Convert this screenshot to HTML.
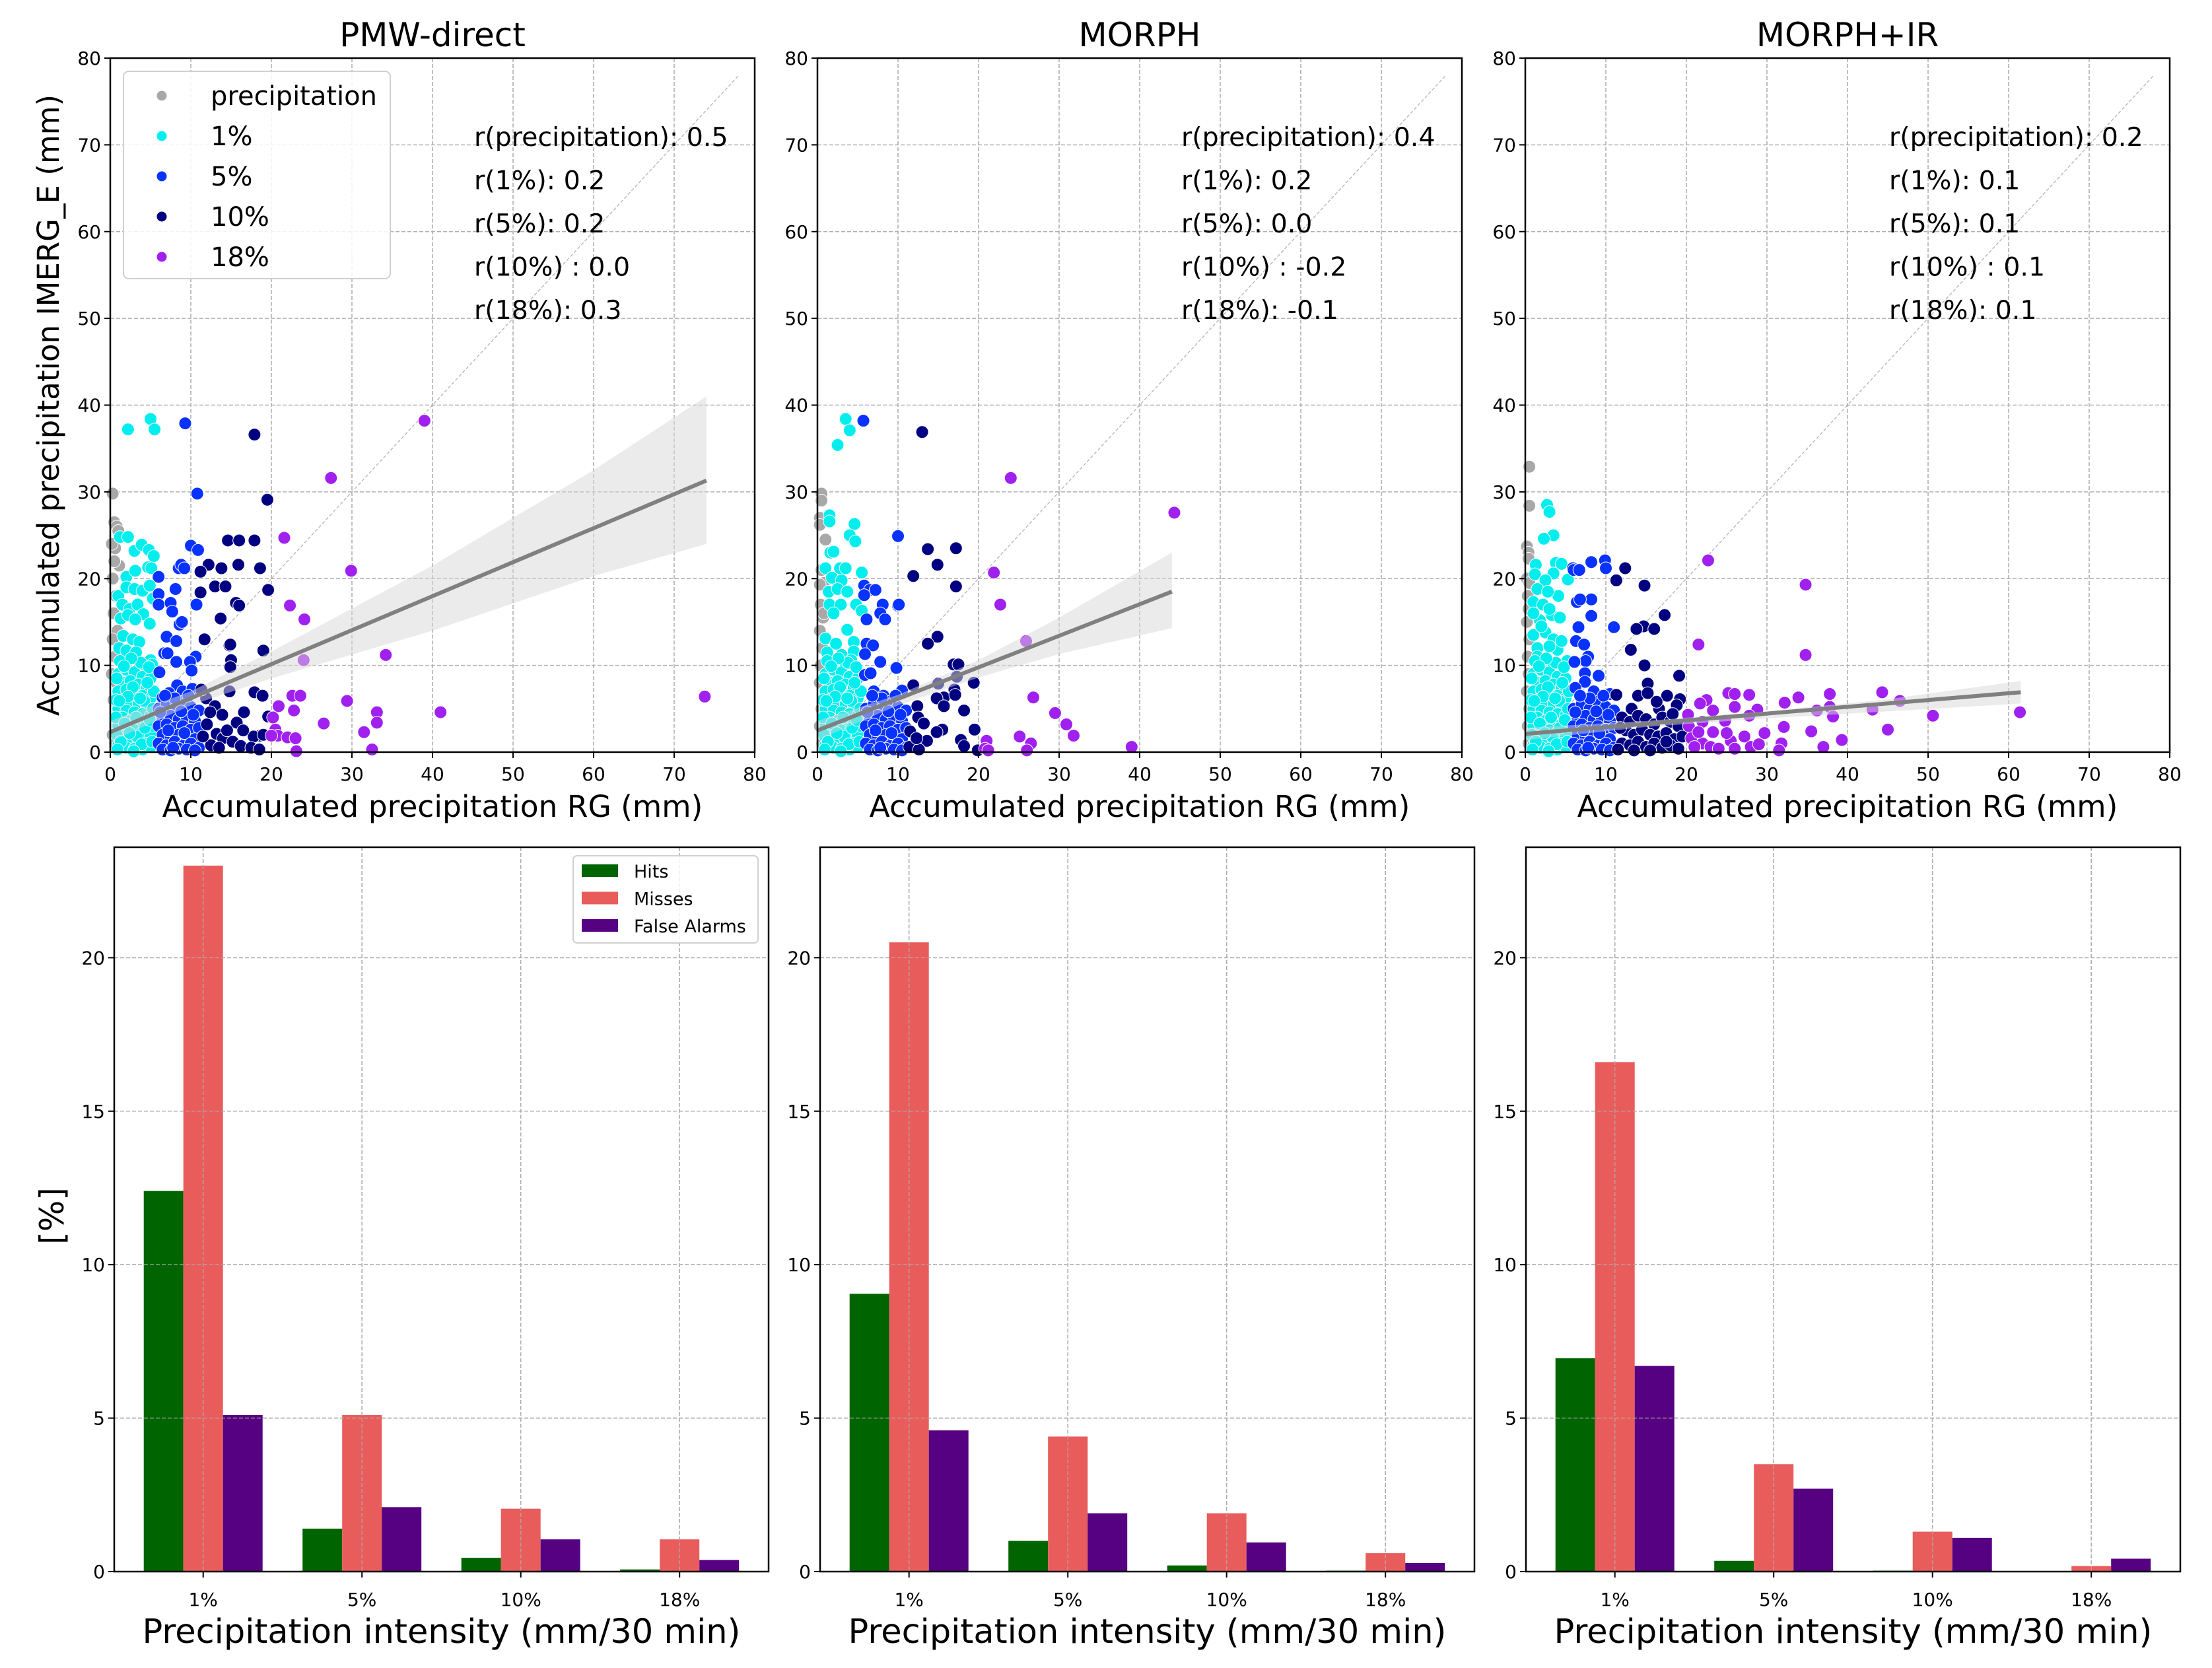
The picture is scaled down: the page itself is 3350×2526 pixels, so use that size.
<!DOCTYPE html>
<html><head><meta charset="utf-8">
<style>
html,body{margin:0;padding:0;background:#fff;}
svg{display:block;font-family:"DejaVu Sans","Liberation Sans",sans-serif;}
</style></head>
<body>
<svg id="fig" xmlns="http://www.w3.org/2000/svg" width="3350" height="2526" viewBox="0 0 3350 2526"></svg>
<script>
// ---------- scatter data (RG mm, IMERG_E mm) ----------
const titles = ["PMW-direct","MORPH","MORPH+IR"];
const corrLabels = ["r(precipitation)","r(1%)","r(5%)","r(10%) ","r(18%)"];
const corrP1 = ["0.5","0.2","0.2","0.0","0.3"];
const corrP2 = ["0.4","0.2","0.0","-0.2","-0.1"];
const corrP3 = ["0.2","0.1","0.1","0.1","0.1"];
const denseCyan = [[1,9],[2,9.5],[3,9.2],[4,8.7],[5,8.5],[1.5,8],[2.5,8.2],[3.5,7.8],[4.5,7.5],[1,7],[2,7.2],[3,6.8],[4,6.5],[5,6.2],[1.5,6],[2.5,5.8],[3.5,5.5],[4.5,5.2],[1,5],[2,4.8],[3,4.6],[4,4.4],[5,4.2],[1.5,4],[2.5,3.6],[3.5,3.4],[4.5,3.2],[1,3],[2,2.8],[3,2.5],[4,2.3],[5,2],[1.5,1.8],[2.5,1.5],[3.5,1.2],[4.5,1],[1,0.8],[2,0.5],[3,0.4],[4,0.3],[5,0.6],[1.2,10.5],[3.8,10.3],[2.6,10.8],[0.8,2],[0.7,6],[5.3,3],[5.4,7],[4.8,9.8],[0.7,4],[0.8,8.5],[1.8,3.3],[2.8,7.5],[3.3,1.8],[4.2,5.9],[1.3,1.2],[3.9,0.9],[2.2,6.4],[4.6,8],[0.9,0.3],[5.2,1.2],[5.3,5],[1.7,9.9],[2.9,0.1],[4.3,2.8],[3.2,4],[2.4,2.2],[1.1,5.9],[3.7,6.2],[4.9,3.7]];
const denseBlue = [[6,5],[7,5.5],[8,5],[9,5.8],[10,5.2],[11,4.8],[6.5,4],[7.5,4.2],[8.5,3.8],[9.5,4],[10.5,3.6],[6,3],[7,3.2],[8,2.8],[9,3],[10,2.6],[11,2.8],[6.5,2],[7.5,1.8],[8.5,2],[9.5,1.6],[10.5,1.5],[6,1],[7,0.8],[8,1.2],[9,0.7],[10,1],[11,0.5],[6.5,0.3],[7.5,0.2],[8.5,0.4],[9.5,0.3],[10.5,0.2],[8,6.2],[9.7,6.5],[6.8,6.5],[7.2,2.5],[9.2,2.2],[6.2,4.6],[10.3,4.3],[8.8,4.7],[7.8,0.5]];

const p1Gray = [[0.3,29.8],[0.5,26.5],[0.8,26],[1,25.5],[0.6,23.5],[1.1,21.5],[0.3,20],[0.7,18],[0.4,16],[0.9,14],[0.3,13],[0.6,11],[0.2,9],[0.8,8],[0.4,6],[0.7,4],[0.3,2],[0.6,1],[0.2,24],[0.5,22]];
const p1Cyan = [[2.2,37.2],[5,38.4],[5.5,37.2],[1.2,24.8],[2.2,24.8],[3,23.2],[3.9,23.9],[4.8,23.3],[5.4,22.6],[2,20.2],[3.1,20.9],[4.7,21.3],[5.1,21.2],[1,18],[2,19],[3,18.8],[4,18.6],[4.9,19.2],[5.3,17.7],[1.5,17],[2.4,16.5],[3.4,17],[4.1,15.9],[4.9,14.8],[1.3,15.4],[2.2,15.8],[3.1,15.3],[1.6,13.4],[2.8,13],[3.6,12.7],[1.1,12],[2,11.7],[3.2,11.5],[5,10.6],[5.2,10.1],[4.5,9.2]].concat(denseCyan);
const p1Blue = [[9.3,37.9],[10.8,29.8],[10,23.8],[10.9,23.3],[6,20.2],[8.5,21.2],[8.8,21.6],[9.2,21.2],[6,18.2],[8.1,18.8],[6,17],[7.5,17.2],[10.7,17],[7.7,16.2],[8.6,14.7],[8.9,15],[7,13.3],[8.2,12.8],[6.7,11.4],[7.1,11.4],[10.6,11],[8.2,10.4],[9.9,10.4],[10.1,9.4],[6.1,9.2],[8.3,7.7],[7.3,6.8],[9,7],[10.2,7.3],[6.5,6.3],[7.8,5.5]].concat(denseBlue);
const p1Navy = [[17.9,36.6],[19.5,29.1],[14.6,24.4],[16,24.4],[17.9,24.4],[12.2,21.6],[13.8,21.2],[15.9,21.6],[18.6,21.2],[11.2,20.8],[13,19.1],[14.3,19.1],[19.6,18.7],[11.2,18.4],[15.6,17.2],[16,16.9],[13.7,15.4],[14.8,12.3],[14.9,12.4],[11.7,13],[15,10.6],[14.9,9.8],[19,11.7],[17.9,6.9],[18.9,6.5],[11.9,6.2],[13,5.3],[14.8,7],[13.9,4.3],[16.6,4.6],[15.7,3.4],[18.6,1.9],[19.6,4.1],[12,3.2],[13.2,2.1],[14,1.6],[15.2,1.2],[16.2,0.7],[17.8,1.8],[17.5,0.5],[12.5,0.8],[11.5,1.8],[13.5,0.5],[14.5,2.5],[16.5,2.5],[18.5,0.3],[19,2],[11.3,7.2],[12.4,4.6]];
const p1Purple = [[39,38.2],[27.4,31.6],[21.6,24.7],[29.9,20.9],[22.3,16.9],[24.1,15.3],[24,10.6],[34.2,11.2],[22.6,6.5],[23.6,6.5],[29.4,5.9],[73.8,6.4],[20.9,5.3],[22.8,4.8],[33.1,4.6],[41,4.6],[20.2,4],[26.5,3.3],[33.1,3.4],[20.5,2.6],[31.5,2.3],[20.8,1.9],[22,1.7],[23,1.6],[32.5,0.3],[23.1,0.1],[20,1.9]];
const p1Fit = [[0,2.3],[74,31.3]];
const p1BandUp = [[0,3.6],[10,7],[20,11.6],[40,21.5],[60,32.5],[74,41]];
const p1BandLo = [[74,24],[60,20.3],[40,14],[20,8.5],[10,5.4],[0,1.2]];

const p2Gray = [[0.5,29.8],[0.5,29],[0.3,27],[0.3,26.2],[1,24.5],[0.5,21],[0.8,19.5],[0.4,17],[0.7,15.5],[0.3,14],[0.6,12],[0.4,10],[0.3,8],[0.5,5],[0.3,3],[0.6,1],[0.8,16],[0.3,19.3]];
const p2Cyan = [[3.5,38.4],[4,37.1],[2.5,35.4],[1.5,27.3],[1.5,26.6],[4.6,26.3],[4,25],[4.7,24.3],[1.6,23],[2,23.1],[1,21.2],[2.8,21.2],[3.5,21.2],[5.5,20.7],[1.8,20.1],[3,19.8],[1.4,18.5],[2.5,18.8],[3.7,18.5],[1.5,17],[2.9,17],[4.8,17],[2,16],[5.5,16.3],[3.7,14.1],[1,13.1],[2.3,12.5],[4.5,12.7],[1.2,11.5],[3,11.2],[4.5,11.6],[1.8,10],[3.5,10.2],[4.2,10.6]].concat(denseCyan);
const p2Blue = [[5.7,38.2],[10,24.9],[5.8,19.2],[6.5,18.7],[7.2,18.7],[5.8,18.1],[8.1,17],[10,16.9],[10.1,17],[7.8,16],[8.4,15.3],[6.1,15.3],[6.1,12.5],[6.9,12.3],[5.9,11.3],[7.8,10.4],[9.8,9.7],[5.9,8.9],[6.6,9.1],[10.5,7.1],[7,7],[8.2,6.5]].concat(denseBlue);
const p2Navy = [[13,36.9],[13.7,23.4],[17.2,23.5],[14.9,21.6],[11.9,20.3],[17.2,19.1],[14.9,13.3],[13.7,12.5],[16.9,10.1],[17.5,10.1],[17.3,8.7],[19.4,8],[11.9,7.7],[15,7.9],[17,7.2],[15.7,6.3],[14.8,6.2],[17.1,6.6],[15.7,5.3],[18.2,4.8],[12.4,5.3],[12.5,4],[13.2,3.3],[19.5,2.6],[15.5,2.6],[14.8,2.3],[13.6,1.3],[17.8,1.4],[18.2,0.7],[11.4,0.6],[12.6,0.3],[19.9,0.2],[11.5,2.4],[12.3,1.6]];
const p2Purple = [[24,31.6],[44.3,27.6],[21.9,20.7],[22.7,17],[25.9,12.8],[26.8,6.3],[29.5,4.5],[30.9,3.2],[31.8,1.9],[25.1,1.8],[26.5,1],[21,1.3],[39,0.6],[20.8,0.4],[26,0.2],[21.2,0.2]];
const p2Fit = [[0,2.5],[44,18.5]];
const p2BandUp = [[0,3.6],[10,6.6],[20,10.6],[30,15.5],[44,23]];
const p2BandLo = [[44,14.3],[30,11.3],[20,8.6],[10,5.4],[0,1.4]];

const p3Gray = [[0.5,32.9],[0.5,28.4],[0.2,23.7],[0.4,23],[0.4,22.3],[0.2,20],[0.5,19.5],[0.3,18],[0.4,16.5],[0.2,15],[0.5,13],[0.3,11],[0.4,9],[0.2,7],[0.5,5],[0.3,3],[0.4,1]];
const p3Cyan = [[2.7,28.5],[3,27.7],[3.5,25],[2.3,24.6],[1.3,21.6],[3.8,21.8],[4.5,21.7],[3.5,20.6],[5.3,19.9],[1.2,20.5],[2.5,19.8],[4.1,18],[1.5,18.8],[2.8,18.5],[1,17.3],[2.2,17],[3.3,15.8],[4.3,15.5],[1.8,15.2],[1,13.5],[2.5,13.8],[3.5,13],[4,11.8],[1.5,12],[5.2,10.5],[2.5,10.5],[3.8,8.7],[4.7,8.4],[1,16],[2,14.5],[3,16.5],[1.5,11],[3,12.2],[4.5,12.8],[2,9.8]].concat(denseCyan);
const p3Blue = [[9.9,22.1],[8.2,21.9],[5.9,21.2],[6,21],[6.7,21],[10,21.2],[6.4,17.3],[8.2,17.6],[6.8,17.6],[8.2,15.7],[6.6,14.4],[11,14.4],[6.3,12.8],[7.3,12.4],[7.8,11],[7.5,10.5],[6.1,10.4],[7.4,9.1],[9.1,8.8],[7.4,8.1],[6.2,7.4],[8.5,7],[10.5,6.7]].concat(denseBlue);
const p3Navy = [[12.4,21.2],[11.3,19.8],[14.8,19.2],[17.3,15.8],[14.7,14.5],[13.8,14.2],[16,14.2],[13.1,11.8],[14.8,10],[15.2,7.9],[19.1,8.8],[11.3,6.6],[14,6.5],[15.2,6.8],[17.6,6.5],[19.2,6.1],[18.8,5.4],[16.6,5],[13.2,5],[12,4],[13,3.5],[14,4.2],[15,3.8],[16,3.2],[17,4],[18,3.5],[19,3],[12.5,2.5],[13.5,2],[14.5,2.6],[15.5,2],[16.5,1.8],[17.5,2.2],[18.5,1.5],[19.5,1.8],[12,1],[13,0.8],[14,1.2],[15,0.6],[16,1],[17,0.5],[18,0.8],[19,0.4],[11.5,0.3],[13.5,0.2],[15.5,0.2],[17.5,1.2],[11.8,2.8],[16.3,5.8],[18.3,4.4]];
const p3Purple = [[22.7,22.1],[34.8,19.3],[21.5,12.4],[34.8,11.2],[44.3,6.9],[25.2,6.8],[26,6.7],[27.8,6.6],[22.5,6],[21.7,5.6],[33.9,6.3],[37.8,6.7],[46.5,5.9],[32.2,5.7],[23.3,4.8],[28.8,4.9],[37.8,5.2],[36.2,4.8],[43.1,4.9],[61.4,4.6],[50.6,4.2],[38.2,4.1],[20.2,4.3],[27.8,4.2],[24.8,3.6],[22,3.5],[26,5.2],[20.3,3],[32.1,2.9],[45,2.6],[35.5,2.4],[29.7,2.2],[23.3,2.3],[25.5,1.3],[27.2,1.8],[39.3,1.4],[31.8,1],[20.6,1.6],[22,1],[21,0.6],[23,0.6],[26,0.4],[28,0.6],[31.5,0.2],[37,0.6],[24,0.4],[29,0.9],[21.5,2.3],[25,2.2]];
const p3Fit = [[0,2.1],[61.5,6.9]];
const p3BandUp = [[0,2.8],[15,3.6],[30,4.7],[45,6.1],[61.5,8.2]];
const p3BandLo = [[61.5,5.6],[45,4.7],[30,3.9],[15,2.9],[0,1.4]];

const scatterTicks = [0,10,20,30,40,50,60,70,80];

// ---------- bar data (%) ----------
const barCategories = ["1%","5%","10%","18%"];
const barSeries = ["Hits","Misses","False Alarms"];
const p1Hits = [12.4,1.4,0.45,0.07];
const p1Misses = [23.0,5.1,2.05,1.05];
const p1FA = [5.1,2.1,1.05,0.38];
const p2Hits = [9.05,1.0,0.2,0.03];
const p2Misses = [20.5,4.4,1.9,0.6];
const p2FA = [4.6,1.9,0.95,0.28];
const p3Hits = [6.95,0.35,0.03,0.0];
const p3Misses = [16.6,3.5,1.3,0.18];
const p3FA = [6.7,2.7,1.1,0.42];
const barTicks = [0,5,10,15,20];

const NS = "http://www.w3.org/2000/svg";
const fig = document.getElementById('fig');
function mk(tag, attrs, parent, text){
  const e = document.createElementNS(NS, tag);
  for (const k in attrs) e.setAttribute(k, attrs[k]);
  if (text !== undefined) e.textContent = text;
  (parent || fig).appendChild(e);
  return e;
}
const GRID = {stroke:"#b0b0b0","stroke-width":1.6,"stroke-dasharray":"6,3",fill:"none"};
const colGray="#a8a8a8", colCyan="#00eeee", colBlue="#0a32ff", colNavy="#000080", colPurple="#a020f0";

function scatterPanel(idx, L, T, W, H, groups, fit, bandUp, bandLo, corrVals, showLegend, showYLabel){
  const g = mk('g', {});
  
  
  const X = v => L + v/80*W;
  const Y = v => T + H - v/80*H;
  scatterTicks.forEach(t => {
    if (t>0 && t<80){
      const gx = mk('line', Object.assign({x1:X(t),x2:X(t),y1:T,y2:T+H}, GRID), g);
       
      const gy = mk('line', Object.assign({x1:L,x2:L+W,y1:Y(t),y2:Y(t)}, GRID), g);
       
    }
  });
  const d = mk('line', {x1:X(0),y1:Y(0),x2:X(78),y2:Y(78),stroke:"#b8b8b8","stroke-width":1.4,"stroke-dasharray":"5,3"}, g);
   
  groups.forEach(gr => {
    const sg = mk('g', {}, g);
    
    
    gr.pts.forEach(p => {
      const c = mk('circle', {cx:X(p[0]), cy:Y(p[1]), r:9.5, fill:gr.color, stroke:"#ffffff","stroke-width":1}, sg);
      
      
    });
  });
  const bp = bandUp.concat(bandLo).map(p => X(p[0]).toFixed(1)+','+Y(p[1]).toFixed(1)).join(' ');
  const band = mk('polygon', {points:bp, fill:"#d8d8d8","fill-opacity":0.5}, g);
   
  const fl = mk('line', {x1:X(fit[0][0]),y1:Y(fit[0][1]),x2:X(fit[1][0]),y2:Y(fit[1][1]),stroke:"#808080","stroke-width":6}, g);
   
  const fr = mk('rect', {x:L,y:T,width:W,height:H,fill:"none",stroke:"#000","stroke-width":2.5}, g);
   
  scatterTicks.forEach(t => {
    mk('line',{x1:X(t),x2:X(t),y1:T+H,y2:T+H+9,stroke:"#000","stroke-width":2},g);
    mk('line',{x1:L-9,x2:L,y1:Y(t),y2:Y(t),stroke:"#000","stroke-width":2},g);
    const xl = mk('text',{x:X(t),y:T+H+43,"font-size":28,"text-anchor":"middle",fill:"#000"},g,String(t));
     
    const yl = mk('text',{x:L-14,y:Y(t)+10,"font-size":28,"text-anchor":"end",fill:"#000"},g,String(t));
     
  });
  const tt = mk('text',{x:L+W/2,y:70,"font-size":50,"text-anchor":"middle",fill:"#000"},g,titles[idx]);
   
  const xlab = mk('text',{x:L+W/2,y:1237,"font-size":45.5,"text-anchor":"middle",fill:"#000"},g,"Accumulated precipitation RG (mm)");
   
  if (showYLabel){
    const yl = mk('text',{x:0,y:0,"font-size":45,"text-anchor":"middle",fill:"#000",transform:`translate(89,${T+H/2}) rotate(-90)`},g,"Accumulated precipitation IMERG_E (mm)");
     
  }
  corrVals.forEach((v,i) => {
    const ct = mk('text',{x:L+551,y:221+i*65.5,"font-size":39.5,fill:"#000"},g,corrLabels[i]+": "+v);
     
  });
  if (showLegend){
    const lg = mk('g',{},g);
     
    mk('rect',{x:187,y:108,width:404,height:314,rx:8,fill:"#fff","fill-opacity":0.85,stroke:"#d0d0d0","stroke-width":2},lg);
    const names = ["precipitation","1%","5%","10%","18%"];
    const cols = [colGray,colCyan,colBlue,colNavy,colPurple];
    names.forEach((n,i)=>{
      const cy = 145 + i*61;
      const m = mk('circle',{cx:245,cy:cy,r:8,fill:cols[i],stroke:"#fff","stroke-width":1},lg);
       
      const t = mk('text',{x:319,y:cy+14,"font-size":40,fill:"#000"},lg,n);
       
    });
  }
}

const topL = [167,1238,2310], topW = 976, topT = 88, topH = 1051;
const scatterSets = [
  [p1Gray,p1Cyan,p1Blue,p1Navy,p1Purple,p1Fit,p1BandUp,p1BandLo,corrP1],
  [p2Gray,p2Cyan,p2Blue,p2Navy,p2Purple,p2Fit,p2BandUp,p2BandLo,corrP2],
  [p3Gray,p3Cyan,p3Blue,p3Navy,p3Purple,p3Fit,p3BandUp,p3BandLo,corrP3]
];
scatterSets.forEach((s,i)=>{
  scatterPanel(i, topL[i], topT, topW, topH, [
    {name:'precipitation',pts:s[0],color:colGray},
    {name:'1pct',pts:s[1],color:colCyan},
    {name:'5pct',pts:s[2],color:colBlue},
    {name:'10pct',pts:s[3],color:colNavy},
    {name:'18pct',pts:s[4],color:colPurple}
  ], s[5], s[6], s[7], s[8], i===0, i===0);
});

// ---------- bar panels ----------
const barCols = ["#006400","#e85c5c","#560082"];
function barPanel(idx, L, T, W, H, series, showLegend, showYLabel){
  const g = mk('g',{});
  
  
  const ymax = 23.6;
  const Y = v => T + H - v/ymax*H;
  const step = 240.5;
  const X = i => L + 134.7 + i*step;
  const bw = 60;
  barCategories.forEach((c,i)=>{
    const gl = mk('line',Object.assign({x1:X(i),x2:X(i),y1:T,y2:T+H},GRID),g);
     
  });
  barTicks.forEach(t=>{
    if(t>0){
      const gl = mk('line',Object.assign({x1:L,x2:L+W,y1:Y(t),y2:Y(t)},GRID),g);
       
    }
  });
  series.forEach((vals,si)=>{
    vals.forEach((v,ci)=>{
      const x = X(ci) + (si-1.5)*bw;
      const r = mk('rect',{x:x,y:Y(v),width:bw,height:Math.max(0,Y(0)-Y(v)),fill:barCols[si]},g);
      
      
    });
  });
  barCategories.forEach((c,i)=>{ mk('line',Object.assign({x1:X(i),x2:X(i),y1:T,y2:T+H},GRID,{"stroke-opacity":0.7}),g); });
  barTicks.forEach(t=>{ if(t>0) mk('line',Object.assign({x1:L,x2:L+W,y1:Y(t),y2:Y(t)},GRID,{"stroke-opacity":0.7}),g); });
  const fr = mk('rect',{x:L,y:T,width:W,height:H,fill:"none",stroke:"#000","stroke-width":2.5},g);
   
  barCategories.forEach((c,i)=>{
    mk('line',{x1:X(i),x2:X(i),y1:T+H,y2:T+H+9,stroke:"#000","stroke-width":2},g);
    const t = mk('text',{x:X(i),y:T+H+52,"font-size":28,"text-anchor":"middle",fill:"#000"},g,c);
     
  });
  barTicks.forEach(t=>{
    mk('line',{x1:L-9,x2:L,y1:Y(t),y2:Y(t),stroke:"#000","stroke-width":2},g);
    const tl = mk('text',{x:L-14,y:Y(t)+10,"font-size":28,"text-anchor":"end",fill:"#000"},g,String(t));
     
  });
  const xl = mk('text',{x:L+W/2,y:2488,"font-size":51,"text-anchor":"middle",fill:"#000"},g,"Precipitation intensity (mm/30 min)");
   
  if (showYLabel){
    const yl = mk('text',{x:0,y:0,"font-size":50,"text-anchor":"middle",fill:"#000",transform:`translate(96,${T+H/2+10}) rotate(-90)`},g,"[%]");
     
  }
  if (showLegend){
    const lg = mk('g',{},g);
     
    mk('rect',{x:L+695,y:1296,width:280,height:132,rx:6,fill:"#fff","fill-opacity":0.85,stroke:"#d0d0d0","stroke-width":2},lg);
    barSeries.forEach((n,i)=>{
      const cy = 1319 + i*41.5;
      const p = mk('rect',{x:L+708,y:cy-10,width:55,height:19,fill:barCols[i]},lg);
       
      const t = mk('text',{x:L+787,y:cy+10,"font-size":27,fill:"#000"},lg,n);
       
    });
  }
}
const botL = [173,1242,2311], botW = 991, botT = 1283, botH = 1097;
const barSets = [[p1Hits,p1Misses,p1FA],[p2Hits,p2Misses,p2FA],[p3Hits,p3Misses,p3FA]];
barSets.forEach((s,i)=> barPanel(i, botL[i], botT, botW, botH, s, i===0, i===0));
</script>
</body></html>
